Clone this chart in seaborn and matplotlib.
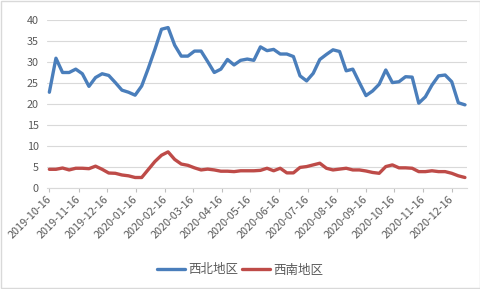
import numpy as np
import pandas as pd
import matplotlib
matplotlib.use("Agg")
import matplotlib.pyplot as plt
import matplotlib.dates as mdates
import seaborn as sns

start_date = "2019-10-16"
n_weeks = 64
series_names = ["西北地区", "西南地区"]
northwest = [22.8, 30.9, 27.5, 27.5, 28.3, 27.2, 24.2, 26.3, 27.2, 26.8,
             25.1, 23.3, 22.8, 22.1, 24.3, 28.5, 33.0, 37.8, 38.2, 34.0,
             31.4, 31.4, 32.6, 32.6, 30.1, 27.5, 28.3, 30.6, 29.3, 30.4,
             30.7, 30.4, 33.6, 32.7, 33.0, 31.9, 31.9, 31.3, 26.7, 25.5,
             27.3, 30.6, 31.8, 32.9, 32.5, 27.9, 28.3, 25.1, 22.0, 23.1,
             24.7, 28.1, 25.1, 25.3, 26.5, 26.4, 20.2, 21.7, 24.5, 26.7,
             26.9, 25.3, 20.3, 19.8]
southwest = [4.45, 4.45, 4.76, 4.3, 4.7, 4.7, 4.6, 5.2, 4.45, 3.57,
             3.5, 3.1, 2.9, 2.5, 2.5, 4.4, 6.3, 7.8, 8.6, 6.8,
             5.7, 5.4, 4.8, 4.3, 4.5, 4.3, 4.0, 4.0, 3.9, 4.1,
             4.1, 4.1, 4.2, 4.7, 4.1, 4.7, 3.6, 3.6, 4.9, 5.1,
             5.5, 5.9, 4.7, 4.3, 4.5, 4.7, 4.3, 4.3, 4.05, 3.7,
             3.5, 5.1, 5.5, 4.8, 4.8, 4.7, 3.9, 3.9, 4.1, 3.9,
             3.9, 3.5, 2.9, 2.5]
y_ticks = [0, 5, 10, 15, 20, 25, 30, 35, 40]

dates = pd.date_range(start_date, periods=n_weeks, freq="7D")
df = pd.concat([
    pd.DataFrame({"date": dates, "value": northwest, "region": series_names[0]}),
    pd.DataFrame({"date": dates, "value": southwest, "region": series_names[1]}),
])

sns.set_style("white")
plt.rcParams["font.family"] = ["Noto Sans CJK SC", "DejaVu Sans"]

fig = plt.figure(figsize=(4.81, 2.89), dpi=100)
ax = fig.add_axes([47/481, (289-188)/289, 420/481, 168/289])

palette = {series_names[0]: "#4A7EBB", series_names[1]: "#BE4B48"}
sns.lineplot(data=df, x="date", y="value", hue="region", palette=palette,
             linewidth=2.4, ax=ax, legend=True)

ax.set_ylim(0, 40)
ax.set_yticks(y_ticks)
ax.set_xlim(dates[0] - pd.Timedelta(days=2.5), dates[-1] + pd.Timedelta(days=2.2))
ax.xaxis.set_major_locator(mdates.MonthLocator(bymonthday=16))
ax.xaxis.set_major_formatter(mdates.DateFormatter("%Y-%m-%d"))
ax.grid(axis="y", color="#D9D9D9", linewidth=0.8)
ax.set_axisbelow(True)
for s in ["top", "right", "left"]:
    ax.spines[s].set_visible(False)
ax.spines["bottom"].set_color("#D9D9D9")
ax.spines["bottom"].set_linewidth(0.8)
ax.tick_params(axis="x", length=3, color="#BFBFBF", labelsize=7.8, labelcolor="#595959", pad=4, bottom=True)
ax.tick_params(axis="y", length=0, labelsize=7.8, labelcolor="#595959", pad=6)
for lbl in ax.get_xticklabels():
    lbl.set_rotation(45)
    lbl.set_ha("right")
    lbl.set_va("center")
    lbl.set_rotation_mode("anchor")
ax.set_xlabel("")
ax.set_ylabel("")

handles, labels = ax.get_legend_handles_labels()
ax.get_legend().remove()
fig.legend(handles, labels, loc="center", bbox_to_anchor=(0.5, (289-270)/289), ncol=2,
           frameon=False, fontsize=9, handlelength=2.2, handletextpad=0.3,
           columnspacing=0.3, labelcolor="#595959")

fig.patches.append(plt.Rectangle((0.002, 0.003), 0.995, 0.994, transform=fig.transFigure,
                                 fill=False, edgecolor="#D9D9D9", linewidth=1))
fig.savefig("out.png", dpi=100)
